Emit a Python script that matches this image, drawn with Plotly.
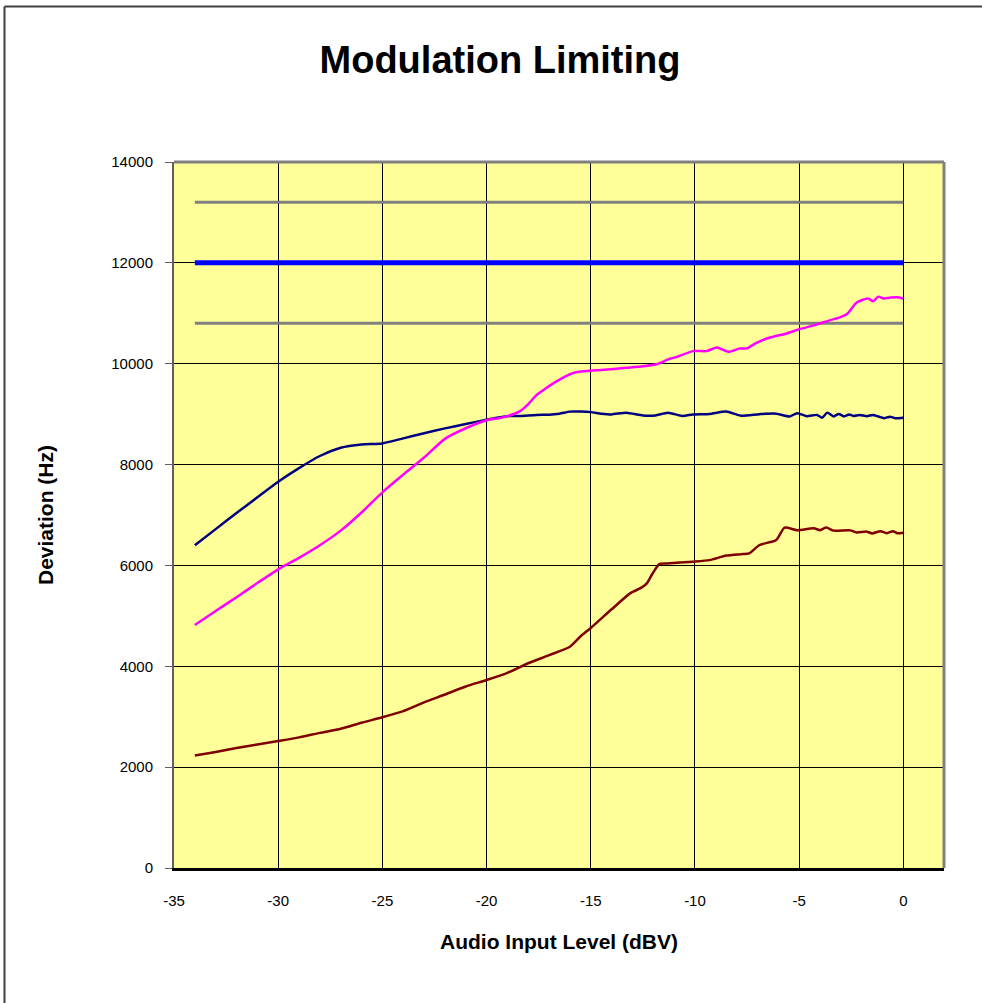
import plotly.graph_objects as go

# ---- data ----
limit_x = [-34, 0]
upper_limit = [13200, 13200]
nominal = [12000, 12000]
lower_limit = [10800, 10800]

navy_x = [-34, -33, -32, -31, -30, -29, -28, -27, -26, -25, -24, -23, -22, -21, -20,
          -19.5, -19, -18.4, -17.6, -17, -16.5, -16, -15.5, -15, -14.5, -14.0, -13.3,
          -12.5, -11.9, -11.3, -10.6, -10.1, -9.3, -8.5, -7.8, -6.9, -6.1, -5.45, -5.1,
          -4.65, -4.15, -3.9, -3.65, -3.35, -3.1, -2.85, -2.6, -2.4, -2.1, -1.75, -1.45,
          -1.1, -0.9, -0.65, -0.4, 0]
navy_y = [6400, 6720, 7040, 7350, 7660, 7930, 8170, 8335, 8400, 8420, 8520, 8620, 8718,
          8804, 8890, 8930, 8960, 8965, 8985, 8990, 9010, 9050, 9050, 9040, 9010, 8995,
          9030, 8975, 8975, 9030, 8965, 8995, 9005, 9050, 8970, 9000, 9010, 8955, 9020,
          8960, 8985, 8930, 9030, 8955, 9005, 8955, 8995, 8965, 8985, 8960, 8985, 8940,
          8920, 8950, 8920, 8930]

magenta_x = [-34, -33, -32, -31, -30, -29, -28, -27, -26, -25, -24, -23, -22, -21, -20,
             -19.4, -19, -18.4, -18, -17.6, -17.2, -16.8, -16.3, -15.8, -15, -14.5, -13.3,
             -12.5, -11.8, -11.2, -10.9, -10.1, -9.45, -8.95, -8.4, -7.85, -7.5, -7.05,
             -6.4, -5.6, -4.95, -4.3, -3.5, -3.05, -2.7, -2.25, -1.7, -1.45, -1.2, -0.95,
             -0.65, -0.3, 0]
magenta_y = [4818, 5096, 5370, 5650, 5923, 6150, 6400, 6690, 7050, 7450, 7800, 8140, 8510,
             8720, 8880, 8920, 8960, 9060, 9200, 9380, 9500, 9610, 9730, 9820, 9860, 9875,
             9920, 9950, 9995, 10100, 10130, 10250, 10250, 10320, 10235, 10300, 10305,
             10415, 10520, 10600, 10690, 10760, 10865, 10920, 10985, 11210, 11295, 11240,
             11330, 11295, 11310, 11320, 11295]

darkred_x = [-34, -33, -32, -31, -30, -29, -28, -27, -26, -25, -24, -23, -22, -21, -20,
             -19, -18, -17, -16, -15.5, -15, -14, -13.1, -12.55, -12.3, -12.05, -11.7,
             -11.35, -10.1, -9.3, -8.5, -7.7, -7.4, -6.9, -6.1, -5.7, -5.1, -4.3, -4.0,
             -3.7, -3.35, -2.55, -2.25, -1.75, -1.5, -1.1, -0.8, -0.5, -0.3, 0]
darkred_y = [2230, 2300, 2380, 2450, 2518, 2590, 2680, 2760, 2880, 2988, 3110, 3286, 3440,
             3600, 3728, 3870, 4060, 4220, 4389, 4590, 4760, 5130, 5450, 5565, 5650, 5830,
             6030, 6040, 6075, 6105, 6195, 6225, 6240, 6405, 6505, 6750, 6700, 6735, 6700,
             6750, 6690, 6695, 6655, 6670, 6635, 6680, 6640, 6680, 6640, 6650]

x_ticks = [-35, -30, -25, -20, -15, -10, -5, 0]
y_ticks = [0, 2000, 4000, 6000, 8000, 10000, 12000, 14000]

FONT = "Liberation Sans, Arial, sans-serif"

fig = go.Figure()
fig.add_trace(go.Scatter(x=limit_x, y=upper_limit, mode="lines",
                         line=dict(color="#808080", width=3), name="Upper limit"))
fig.add_trace(go.Scatter(x=limit_x, y=lower_limit, mode="lines",
                         line=dict(color="#808080", width=3), name="Lower limit"))
fig.add_trace(go.Scatter(x=limit_x, y=nominal, mode="lines",
                         line=dict(color="#0000FF", width=5), name="Nominal"))
fig.add_trace(go.Scatter(x=navy_x, y=navy_y, mode="lines",
                         line=dict(color="#000080", width=2.5, shape="spline", smoothing=0.6),
                         name="Series 1"))
fig.add_trace(go.Scatter(x=magenta_x, y=magenta_y, mode="lines",
                         line=dict(color="#FF00FF", width=2.5, shape="spline", smoothing=0.6),
                         name="Series 2"))
fig.add_trace(go.Scatter(x=darkred_x, y=darkred_y, mode="lines",
                         line=dict(color="#800000", width=2.5, shape="spline", smoothing=0.6),
                         name="Series 3"))

fig.update_layout(
    width=982, height=1003,
    margin=dict(l=174, r=38, t=162, b=135),
    paper_bgcolor="white",
    plot_bgcolor="#FFFF99",
    showlegend=False,
    font=dict(family=FONT, color="black", size=15),
    title=dict(text="<b>Modulation Limiting</b>", font=dict(family=FONT, size=38, color="black"),
               x=500 / 982, xref="container", xanchor="center",
               y=1 - 60 / 1003, yref="container", yanchor="middle"),
)

fig.update_xaxes(
    range=[-35, 1.95], tickmode="array", tickvals=x_ticks, ticktext=[str(v) for v in x_ticks],
    showgrid=True, gridcolor="black", gridwidth=1,
    showline=True, linecolor="black", linewidth=2.5,
    zeroline=False, ticks="", ticklabelstandoff=17,
    tickfont=dict(family=FONT, size=15, color="black"),
    title=dict(text="<b>Audio Input Level (dBV)</b>", font=dict(family=FONT, size=21, color="black"),
               standoff=27),
)
fig.update_yaxes(
    range=[0, 14000], tickmode="array", tickvals=y_ticks, ticktext=[str(v) for v in y_ticks],
    showgrid=True, gridcolor="black", gridwidth=1,
    showline=True, linecolor="#606060", linewidth=2,
    zeroline=False, ticks="outside", ticklen=7, tickcolor="#606060", tickwidth=1,
    ticklabelstandoff=9,
    tickfont=dict(family=FONT, size=15, color="black"),
    title=dict(text="<b>Deviation (Hz)</b>", font=dict(family=FONT, size=21, color="black"),
               standoff=52),
)

# plot-area frame (top and right, gray) and outer chart border (left and top)
fig.add_shape(type="line", xref="paper", yref="paper", x0=0, x1=1, y0=1, y1=1,
              line=dict(color="#808080", width=3))
fig.add_shape(type="line", xref="paper", yref="paper", x0=1, x1=1, y0=0, y1=1,
              line=dict(color="#808080", width=3))
fig.add_shape(type="line", xref="paper", yref="paper",
              x0=(4.5 - 174) / 770, x1=(4.5 - 174) / 770, y0=(868 - 6.5) / 706, y1=(868 - 1010) / 706,
              line=dict(color="#404040", width=2))
fig.add_shape(type="line", xref="paper", yref="paper",
              x0=(4.5 - 174) / 770, x1=(990 - 174) / 770, y0=(868 - 6.5) / 706, y1=(868 - 6.5) / 706,
              line=dict(color="#404040", width=2))

# the page body has a default 8px margin; remove it so the figure sits at the window origin
fig.write_html("out.html", config={"displayModeBar": False},
               post_script=["document.body.style.margin='0';"])
